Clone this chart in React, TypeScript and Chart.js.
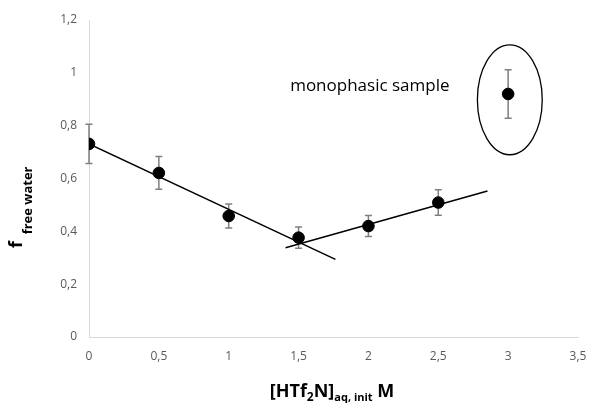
import React, { useEffect, useRef } from "react";
import { Chart, registerables } from "chart.js";

Chart.register(...registerables);

const concentrations = [0, 0.5, 1, 1.5, 2, 2.5, 3];
const freeWater = [0.731, 0.621, 0.458, 0.376, 0.42, 0.509, 0.92];
const errors = [0.074, 0.062, 0.045, 0.04, 0.04, 0.048, 0.092];

const trend1X = [0, 1.764];
const trend1Y = [0.731, 0.294];
const trend2X = [1.407, 2.852];
const trend2Y = [0.338, 0.553];

const ellipseCenter = [3.012, 0.898];
const ellipseRadii = [0.232, 0.208];
const annotationPos = [2.01, 0.951];
const annotationText = "monophasic sample";

const FONT = "'Open Sans', 'DejaVu Sans', sans-serif";

const fmt = (v: number) => String(Number(v.toFixed(1))).replace(".", ",");

const overlayPlugin = {
  id: "overlay",
  beforeDatasetsDraw(chart: any) {
    const { ctx, scales } = chart;
    const xs = scales.x;
    const ys = scales.y;
    ctx.save();
    ctx.strokeStyle = "#7f7f7f";
    ctx.lineWidth = 1.5;
    concentrations.forEach((c, i) => {
      const px = xs.getPixelForValue(c);
      const top = ys.getPixelForValue(freeWater[i] + errors[i]);
      const bot = ys.getPixelForValue(freeWater[i] - errors[i]);
      ctx.beginPath();
      ctx.moveTo(px, top);
      ctx.lineTo(px, bot);
      ctx.moveTo(px - 3.5, top);
      ctx.lineTo(px + 3.5, top);
      ctx.moveTo(px - 3.5, bot);
      ctx.lineTo(px + 3.5, bot);
      ctx.stroke();
    });
    ctx.restore();
  },
  afterDraw(chart: any) {
    const { ctx, scales } = chart;
    const xs = scales.x;
    const ys = scales.y;
    ctx.save();
    // ellipse
    const cx = xs.getPixelForValue(ellipseCenter[0]);
    const cy = ys.getPixelForValue(ellipseCenter[1]);
    const rx = xs.getPixelForValue(ellipseCenter[0] + ellipseRadii[0]) - cx;
    const ry = cy - ys.getPixelForValue(ellipseCenter[1] + ellipseRadii[1]);
    ctx.strokeStyle = "#000";
    ctx.lineWidth = 1.3;
    ctx.beginPath();
    ctx.ellipse(cx, cy, rx, ry, 0, 0, Math.PI * 2);
    ctx.stroke();

    // annotation
    ctx.fillStyle = "#000";
    ctx.font = `17px ${FONT}`;
    ctx.textAlign = "center";
    ctx.textBaseline = "middle";
    ctx.fillText(annotationText, xs.getPixelForValue(annotationPos[0]), ys.getPixelForValue(annotationPos[1]));

    // x title
    ctx.textAlign = "left";
    ctx.textBaseline = "alphabetic";
    const parts: [string, number, number][] = [
      ["[HTf", 18, 0],
      ["2", 12, 4],
      ["N]", 18, 0],
      ["aq, init", 11, 4],
      [" M", 18, 0],
    ];
    let total = 0;
    parts.forEach(([t, s]) => {
      ctx.font = `bold ${s}px ${FONT}`;
      total += ctx.measureText(t).width;
    });
    let x = 332 - total / 2;
    const baseY = 397;
    parts.forEach(([t, s, dy]) => {
      ctx.font = `bold ${s}px ${FONT}`;
      ctx.fillText(t, x, baseY + dy);
      x += ctx.measureText(t).width;
    });

    // y title (rotated)
    ctx.translate(22, 248);
    ctx.rotate(-Math.PI / 2);
    ctx.font = `bold 18px ${FONT}`;
    ctx.fillText("f", 0, 0);
    const fw = ctx.measureText("f ").width;
    ctx.font = `bold 13px ${FONT}`;
    ctx.fillText("free water", fw + 2, 10);
    ctx.restore();
  },
};

export default function App() {
  const ref = useRef<HTMLCanvasElement>(null);
  useEffect(() => {
    if (!ref.current) return;
    const chart = new Chart(ref.current, {
      type: "scatter",
      data: {
        datasets: [
          {
            data: concentrations.map((c, i) => ({ x: c, y: freeWater[i] })),
            backgroundColor: "#000",
            borderColor: "#000",
            pointRadius: 5.8,
            showLine: false,
          },
          {
            type: "line",
            data: trend1X.map((v, i) => ({ x: v, y: trend1Y[i] })),
            borderColor: "#000",
            borderWidth: 1.5,
            pointRadius: 0,
            fill: false,
          },
          {
            type: "line",
            data: trend2X.map((v, i) => ({ x: v, y: trend2Y[i] })),
            borderColor: "#000",
            borderWidth: 1.5,
            pointRadius: 0,
            fill: false,
          },
        ] as any,
      },
      options: {
        animation: false,
        responsive: true,
        maintainAspectRatio: false,
        layout: { padding: { left: 0, top: 20, right: 12, bottom: 0 } },
        plugins: { legend: { display: false }, tooltip: { enabled: false } },
        scales: {
          x: {
            type: "linear",
            min: 0,
            max: 3.5,
            grid: { display: false, drawTicks: false, tickLength: 0 },
            border: { display: true, color: "#d9d9d9", width: 1 },
            ticks: {
              stepSize: 0.5,
              padding: 12,
              color: "#595959",
              font: { family: FONT, size: 12 },
              callback: (v: any) => fmt(Number(v)),
            },
            afterFit: (s: any) => {
              s.height = 66;
              s.paddingLeft = 0;
              s.paddingRight = 0;
            },
          },
          y: {
            min: 0,
            max: 1.2,
            grid: { display: false, drawTicks: false, tickLength: 0 },
            border: { display: true, color: "#d9d9d9", width: 1 },
            ticks: {
              stepSize: 0.2,
              padding: 12,
              color: "#595959",
              font: { family: FONT, size: 12 },
              callback: (v: any) => fmt(Number(v)),
            },
            afterFit: (s: any) => {
              s.width = 89;
              s.paddingTop = 0;
              s.paddingBottom = 0;
            },
          },
        },
      },
      plugins: [overlayPlugin],
    });
    return () => chart.destroy();
  }, []);
  return (
    <div style={{ position: "fixed", left: 0, top: 0, width: 590, height: 403, background: "#fff" }}>
      <canvas ref={ref} />
    </div>
  );
}
